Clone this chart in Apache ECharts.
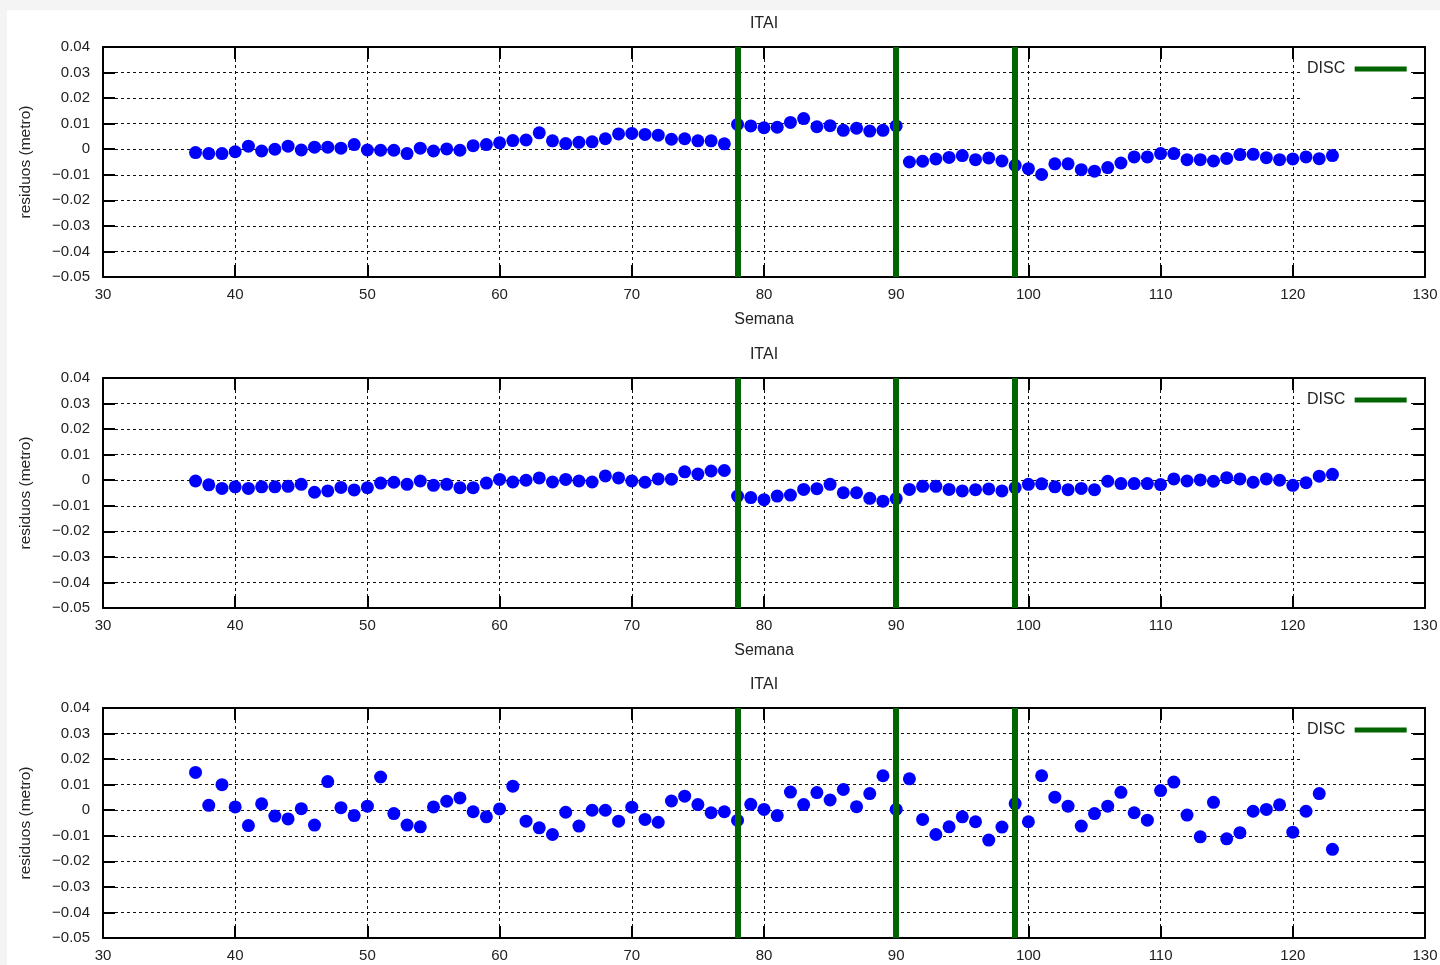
<!DOCTYPE html>
<html>
<head>
<meta charset="utf-8">
<title>ITAI - residuos por semana</title>
<script src="https://cdn.jsdelivr.net/npm/echarts@6/dist/echarts.min.js"></script>
<style>
  html, body { margin: 0; padding: 0; background: #f4f4f4; overflow: hidden; }
  .sheet { position: absolute; left: 7px; top: 10px; right: 0; bottom: 0; background: #fff; }
  #chart { position: absolute; left: 0; top: 0; width: 1440px; height: 965px; }
</style>
</head>
<body>
<div class="sheet"></div>
<div id="chart"></div>
<script>
// semana inicial de cada serie (una muestra por semana)
const firstWeek = 37
// discontinuidades
const discWeeks = [78, 90, 99]

const panelTitles = ['ITAI', 'ITAI', 'ITAI']

// residuos panel 1, semanas 37..123
const residuosA = [
  -0.0013, -0.0017, -0.0017, -0.0010, 0.0012, -0.0007, 0.0000, 0.0012, -0.0003, 0.0008,
  0.0008, 0.0004, 0.0018, -0.0003, -0.0004, -0.0004, -0.0017, 0.0004, -0.0007, 0.0001,
  -0.0004, 0.0014, 0.0018, 0.0025, 0.0034, 0.0036, 0.0064, 0.0033, 0.0022, 0.0027,
  0.0029, 0.0041, 0.0060, 0.0062, 0.0058, 0.0055, 0.0039, 0.0041, 0.0033, 0.0033,
  0.0021, 0.0097, 0.0091, 0.0084, 0.0086, 0.0105, 0.0120, 0.0088, 0.0092, 0.0074,
  0.0082, 0.0071, 0.0074, 0.0091, -0.0050, -0.0047, -0.0038, -0.0032, -0.0025, -0.0041,
  -0.0034, -0.0046, -0.0063, -0.0076, -0.0099, -0.0057, -0.0057, -0.0080, -0.0086, -0.0072,
  -0.0054, -0.0030, -0.0030, -0.0017, -0.0017, -0.0041, -0.0041, -0.0046, -0.0036, -0.0021,
  -0.0020, -0.0033, -0.0041, -0.0038, -0.0030, -0.0037, -0.0025
]

// residuos panel 2
const residuosB = [
  -0.0003, -0.0018, -0.0032, -0.0026, -0.0032, -0.0026, -0.0026, -0.0024, -0.0016, -0.0047,
  -0.0042, -0.0028, -0.0038, -0.0029, -0.0011, -0.0008, -0.0016, -0.0003, -0.0020, -0.0016,
  -0.0029, -0.0029, -0.0011, 0.0003, -0.0007, 0.0000, 0.0009, -0.0007, 0.0003, -0.0003,
  -0.0007, 0.0017, 0.0009, -0.0003, -0.0008, 0.0005, 0.0004, 0.0033, 0.0024, 0.0036,
  0.0038, -0.0062, -0.0068, -0.0076, -0.0062, -0.0058, -0.0036, -0.0033, -0.0016, -0.0049,
  -0.0049, -0.0071, -0.0082, -0.0072, -0.0036, -0.0024, -0.0024, -0.0036, -0.0042, -0.0037,
  -0.0034, -0.0042, -0.0029, -0.0016, -0.0014, -0.0026, -0.0037, -0.0032, -0.0037, -0.0004,
  -0.0013, -0.0013, -0.0013, -0.0017, 0.0005, -0.0003, 0.0001, -0.0004, 0.0010, 0.0005,
  -0.0008, 0.0005, 0.0000, -0.0020, -0.0010, 0.0016, 0.0023
]

// residuos panel 3
const residuosC = [
  0.0148, 0.0019, 0.0100, 0.0013, -0.0060, 0.0025, -0.0023, -0.0034, 0.0006, -0.0058,
  0.0112, 0.0010, -0.0021, 0.0016, 0.0130, -0.0013, -0.0058, -0.0065, 0.0013, 0.0035,
  0.0048, -0.0006, -0.0026, 0.0005, 0.0094, -0.0043, -0.0069, -0.0095, -0.0008, -0.0062,
  0.0000, 0.0000, -0.0043, 0.0012, -0.0036, -0.0047, 0.0036, 0.0055, 0.0022, -0.0010,
  -0.0006, -0.0040, 0.0023, 0.0003, -0.0021, 0.0071, 0.0022, 0.0069, 0.0040, 0.0081,
  0.0014, 0.0065, 0.0135, 0.0003, 0.0123, -0.0036, -0.0095, -0.0065, -0.0026, -0.0045,
  -0.0117, -0.0066, 0.0026, -0.0045, 0.0135, 0.0051, 0.0016, -0.0062, -0.0013, 0.0016,
  0.0070, -0.0010, -0.0039, 0.0077, 0.0110, -0.0019, -0.0104, 0.0031, -0.0112, -0.0088,
  -0.0004, 0.0003, 0.0021, -0.0086, -0.0004, 0.0065, -0.0153
]

const panels = [residuosA, residuosB, residuosC]

const FONT = '"Liberation Sans", Arial, sans-serif'
const TEXT = '#222'
const panelTops = [47, 378, 708]
const plotLeft = 103
const plotW = 1322
const plotH = 230

const fmtY = v => {
  const r = Math.round(v * 100) / 100
  if (r === 0) return '0'
  return r.toFixed(2).replace('-', '\u2212')
}

const frame = { show: true, onZero: false, lineStyle: { color: '#000', width: 2 } }
const ticksIn = { show: true, inside: true, length: 12, lineStyle: { color: '#000', width: 2 } }
const dashGrid = { show: true, lineStyle: { color: '#111', width: 1, type: [3, 3] } }
const tickStyle = { fontSize: 15, color: TEXT, fontFamily: FONT }
const nameStyle = { fontSize: 16, color: TEXT, fontFamily: FONT }

const grid = []
const xAxis = []
const yAxis = []
const title = []
const legend = []
const series = []

panels.forEach((vals, i) => {
  const top = panelTops[i]
  grid.push({ left: plotLeft, top: top, width: plotW, height: plotH, outerBoundsMode: 'none', containLabel: false })

  const xBase = { type: 'value', gridIndex: i, min: 30, max: 130, interval: 10, axisLine: frame, axisTick: ticksIn }
  xAxis.push({
    ...xBase,
    position: 'bottom',
    axisLabel: { ...tickStyle, margin: 10 },
    splitLine: dashGrid,
    name: 'Semana',
    nameLocation: 'middle',
    nameGap: 35,
    nameTextStyle: nameStyle
  })
  xAxis.push({ ...xBase, position: 'top', axisLabel: { show: false }, splitLine: { show: false } })

  const yBase = { type: 'value', gridIndex: i, min: -0.05, max: 0.04, interval: 0.01, axisLine: frame, axisTick: ticksIn }
  yAxis.push({
    ...yBase,
    position: 'left',
    axisLabel: { ...tickStyle, margin: 13, formatter: fmtY },
    splitLine: dashGrid,
    name: 'residuos (metro)',
    nameLocation: 'middle',
    nameGap: 69,
    nameRotate: 90,
    nameTextStyle: { ...nameStyle, fontSize: 15.5 }
  })
  yAxis.push({ ...yBase, position: 'right', axisLabel: { show: false }, splitLine: { show: false } })

  title.push({
    text: panelTitles[i],
    left: plotLeft + plotW / 2,
    top: top - 31,
    textAlign: 'center',
    padding: 0,
    textStyle: { fontSize: 16, fontWeight: 'normal', color: TEXT, fontFamily: FONT }
  })

  legend.push({
    data: [{ name: 'DISC', icon: 'rect' }],
    left: 1303,
    top: top + 1,
    align: 'right',
    itemWidth: 52,
    itemHeight: 5,
    padding: [13, 4, 29, 4],
    backgroundColor: '#fff',
    selectedMode: false,
    formatter: '{name} ',
    textStyle: nameStyle
  })

  series.push({
    type: 'scatter',
    xAxisIndex: 2 * i,
    yAxisIndex: 2 * i,
    symbolSize: 13,
    itemStyle: { color: '#0000ff', opacity: 1 },
    data: vals.map((v, k) => [firstWeek + k, v]),
    z: 3
  })
  series.push({
    type: 'line',
    name: 'DISC',
    xAxisIndex: 2 * i,
    yAxisIndex: 2 * i,
    color: '#006400',
    data: [],
    markLine: {
      silent: true,
      symbol: ['none', 'none'],
      label: { show: false },
      lineStyle: { color: '#006400', width: 6, type: 'solid' },
      data: discWeeks.map(w => ({ xAxis: w }))
    },
    z: 4
  })
})

const chart = echarts.init(document.getElementById('chart'))
chart.setOption({
  animation: false,
  backgroundColor: 'transparent',
  textStyle: { fontFamily: FONT },
  title,
  legend,
  grid,
  xAxis,
  yAxis,
  series
})
</script>
</body>
</html>
